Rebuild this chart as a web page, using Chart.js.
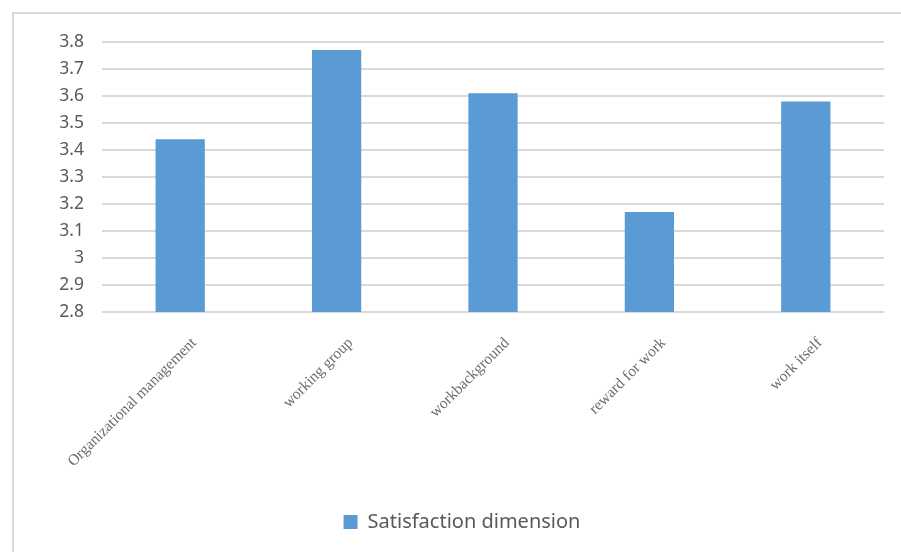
<!DOCTYPE html>
<html>
<head>
<meta charset="utf-8">
<script src="https://cdn.jsdelivr.net/npm/chart.js@4.4.0/dist/chart.umd.min.js"></script>
<style>
  body { margin: 0; background: #fff; }
  #wrap { position: relative; width: 901px; height: 552px; overflow: hidden; }
  #frame { position: absolute; left: 12px; top: 12px; width: 900px; height: 560px;
           border-left: 2px solid #d9d9d9; border-top: 2px solid #d9d9d9; }
  canvas { position: absolute; left: 0; top: 0; }
</style>
</head>
<body>
<div id="wrap">
  <div id="frame"></div>
  <canvas id="myChart" width="901" height="552"></canvas>
</div>
<script>
const categories = ["Organizational management", "working group", "workbackground", "reward for work", "work itself"];
const satisfaction = [3.44, 3.77, 3.61, 3.17, 3.58];
const yMin = 2.8;
const yMax = 3.8;

const ctx = document.getElementById("myChart").getContext("2d");
const myChart = new Chart(ctx, {
  type: "bar",
  data: {
    labels: categories,
    datasets: [
      {
        label: "Satisfaction dimension",
        data: satisfaction,
        backgroundColor: "#5b9bd5",
        borderWidth: 0,
        categoryPercentage: 1,
        barPercentage: 0.315,
      },
    ],
  },
  options: {
    responsive: false,
    animation: false,
    // left padding keeps the legend centred a bit right of the canvas middle
    layout: { padding: { top: 42, right: 17, bottom: 10, left: 40 } },
    plugins: {
      legend: {
        position: "bottom",
        labels: {
          boxWidth: 14,
          boxHeight: 14,
          padding: 10,
          color: "#595959",
          font: { family: "'Noto Sans'", size: 20 },
        },
      },
      tooltip: { enabled: false },
    },
    scales: {
      x: {
        grid: { display: false },
        border: { display: false },
        ticks: {
          minRotation: 45,
          maxRotation: 45,
          padding: 14,
          labelOffset: 14,
          color: "#6b6b6b",
          font: { family: "'Liberation Serif'", size: 15.5 },
        },
        afterFit: function (scale) {
          scale.height = 190;
        },
      },
      y: {
        min: yMin,
        max: yMax,
        border: { display: false },
        grid: { color: "#d9d9d9", lineWidth: 2, drawTicks: false },
        ticks: {
          stepSize: 0.1,
          padding: 18,
          color: "#595959",
          font: { family: "'Noto Sans'", size: 17.5 },
          callback: function (v) {
            return Math.round(v * 10) / 10;
          },
        },
        afterFit: function (scale) {
          scale.width = 62;
        },
      },
    },
  },
});
</script>
</body>
</html>
